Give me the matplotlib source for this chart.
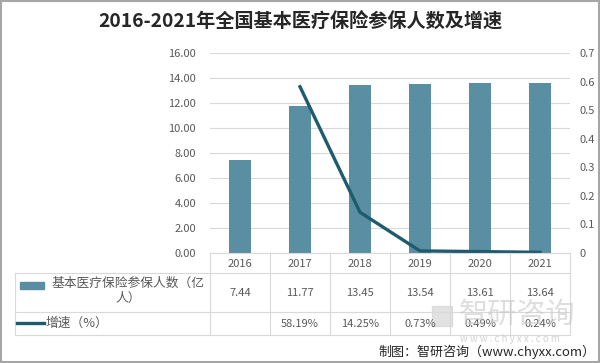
import matplotlib
matplotlib.use("Agg")
from matplotlib import pyplot as plt
from matplotlib.patches import Rectangle
from matplotlib.lines import Line2D

plt.rcParams['font.family'] = ['Noto Sans CJK SC', 'DejaVu Sans']

### Data ###
years = ['2016', '2017', '2018', '2019', '2020', '2021']
insured = [7.44, 11.77, 13.45, 13.54, 13.61, 13.64]
growth_years = ['2017', '2018', '2019', '2020', '2021']
growth = [0.5819, 0.1425, 0.0073, 0.0049, 0.0024]
insured_labels = ['7.44', '11.77', '13.45', '13.54', '13.61', '13.64']
growth_labels = ['', '58.19%', '14.25%', '0.73%', '0.49%', '0.24%']
title = '2016-2021年全国基本医疗保险参保人数及增速'
bar_name = '基本医疗保险参保人数（亿\n人）'
line_name = '增速（%）'
############

BAR_C = '#5a8ea3'
LINE_C = '#1e5b6e'
GRID_C = '#d9d9d9'
TXT_C = '#595959'
W, H = 600, 363

fig = plt.figure(figsize=(W/100, H/100), dpi=100)

def fx(px):
    return px / W

def fy(py):
    return 1 - py / H

ax = fig.add_axes([fx(210), fy(253), fx(570) - fx(210), fy(53) - fy(253)])
x = list(range(len(years)))
ax.bar(x, insured, width=0.38, color=BAR_C, zorder=2)
ax.set_xlim(-0.5, len(years) - 0.5)
ax.set_ylim(0, 16)
ax.set_yticks(range(0, 17, 2))
ax.set_yticklabels(['%.2f' % v for v in range(0, 17, 2)])
ax.grid(axis='y', color=GRID_C, lw=0.8, zorder=0)
ax.set_xticks([])
for s in ax.spines.values():
    s.set_visible(False)
ax.tick_params(axis='y', length=0, labelsize=8, labelcolor=TXT_C, pad=10)

ax2 = ax.twinx()
gx = [years.index(y) for y in growth_years]
ax2.plot(gx, growth, color=LINE_C, lw=2.4, zorder=3)
ax2.set_ylim(0, 0.7)
ax2.set_yticks([i / 10 for i in range(8)])
ax2.set_yticklabels(['0'] + ['0.%d' % i for i in range(1, 8)])
for s in ax2.spines.values():
    s.set_visible(False)
ax2.tick_params(axis='y', length=0, labelsize=8, labelcolor=TXT_C, pad=7)

# title
fig.text(0.5, fy(22), title, ha='center', va='center', fontsize=13.8,
         fontweight='bold', color='#262626')

# data table
cols_x = [210 + 60 * i for i in range(len(years) + 1)]
def hline(py, x0, x1):
    fig.add_artist(Line2D([fx(x0), fx(x1)], [fy(py), fy(py)], color=GRID_C, lw=0.8))
def vline(px, y0, y1):
    fig.add_artist(Line2D([fx(px), fx(px)], [fy(y0), fy(y1)], color=GRID_C, lw=0.8))

hline(253, 210, 570)
hline(273, 15, 570)
hline(312, 15, 570)
hline(335, 15, 570)
for cx in cols_x:
    vline(cx, 253, 335)
vline(15, 273, 335)

for i, y in enumerate(years):
    cx = (cols_x[i] + cols_x[i + 1]) / 2
    fig.text(fx(cx), fy(264), y, ha='center', va='center', fontsize=8, color=TXT_C)
    fig.text(fx(cx), fy(293), insured_labels[i], ha='center', va='center', fontsize=8, color=TXT_C)
    fig.text(fx(cx), fy(324), growth_labels[i], ha='center', va='center', fontsize=8, color=TXT_C)

fig.add_artist(Rectangle((fx(20), fy(289)), fx(24), fy(282) - fy(289), color=BAR_C))
fig.text(fx(128), fy(291), bar_name, ha='center', va='center', fontsize=9.2,
         color=TXT_C, linespacing=1.15)
fig.add_artist(Line2D([fx(17), fx(44)], [fy(323), fy(323)], color=LINE_C, lw=2.4))
fig.text(fx(45), fy(323), line_name, ha='left', va='center', fontsize=9.2, color=TXT_C)

# watermark
fig.add_artist(Rectangle((fx(432), fy(326)), fx(20), fy(306) - fy(326), color='#d0d0d0', alpha=0.6))
fig.text(fx(517), fy(315), '智研咨询', ha='center', va='center', fontsize=21,
         color='#c8c8c8', alpha=0.6)
fig.text(fx(510), fy(339), 'w w w . c h y x x . c o m', ha='center', va='center',
         fontsize=7, color='#c8c8c8', alpha=0.8)

# source
fig.text(fx(595), fy(352), '制图：智研咨询（www.chyxx.com）', ha='right', va='center',
         fontsize=9.4, color='#262626')

# outer frame
fig.add_artist(Rectangle((0.002, 0.003), 0.996, 0.994, fill=False, ec='#a6a6a6', lw=1.5))

fig.savefig('out.png', dpi=100)
